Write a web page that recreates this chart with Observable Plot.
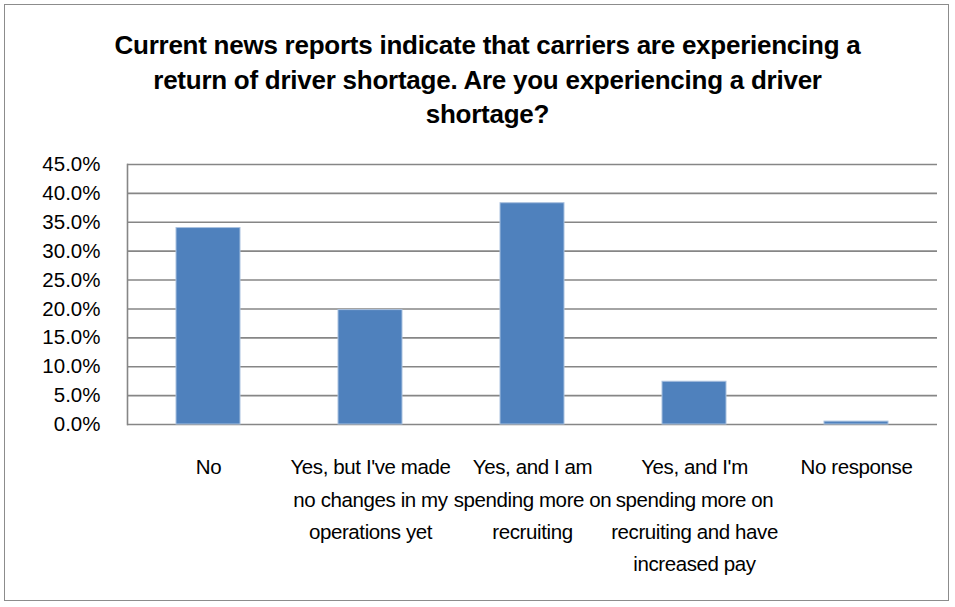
<!DOCTYPE html>
<html>
<head>
<meta charset="utf-8">
<script src="https://cdn.jsdelivr.net/npm/d3@7"></script>
<script src="https://cdn.jsdelivr.net/npm/@observablehq/plot@0.6"></script>
<style>
  html, body { margin: 0; padding: 0; background: #fff; }
  #wrap { position: relative; width: 955px; height: 607px; overflow: hidden; }
  #border { position: absolute; left: 4px; top: 4px; width: 945px; height: 597px; border: 1px solid #8c8c8c; box-sizing: border-box; }
  #title { position: absolute; left: 0; top: 28px; width: 975px; text-align: center;
    font-family: "Liberation Sans", Arial, sans-serif; font-weight: bold; font-size: 26px; line-height: 34.5px; color: #000; letter-spacing: -0.25px; }
  #chart { position: absolute; left: 0; top: 140px; }
  .xlab text { letter-spacing: -0.4px; }
</style>
</head>
<body>
<div id="wrap">
  <div id="border"></div>
  <div id="title">Current news reports indicate that carriers are experiencing a<br>return of driver shortage. Are you experiencing a driver<br>shortage?</div>
  <div id="chart"></div>
</div>
<script>
const categories = [
  "No",
  "Yes, but I've made no changes in my operations yet",
  "Yes, and I am spending more on recruiting",
  "Yes, and I'm spending more on recruiting and have increased pay",
  "No response"
];
const labelLines = [
  "No",
  "Yes, but I've made\nno changes in my\noperations yet",
  "Yes, and I am\nspending more on\nrecruiting",
  "Yes, and I'm\nspending more on\nrecruiting and have\nincreased pay",
  "No response"
];
const values = [34.0, 19.8, 38.3, 7.4, 0.5];
const yTicks = [0, 5, 10, 15, 20, 25, 30, 35, 40, 45];

const rows = categories.map((c, i) => ({cat: c, label: labelLines[i], v: values[i]}));

const chart = Plot.plot({
  width: 955,
  height: 467,
  marginTop: 24,
  marginBottom: 183,
  marginLeft: 127,
  marginRight: 18,
  style: {fontFamily: "'Liberation Sans', Arial, sans-serif", background: "transparent", color: "#000"},
  x: {domain: categories, axis: null, paddingInner: 0.605, paddingOuter: 0.3025},
  y: {domain: [0, 45], axis: null},
  marks: [
    Plot.ruleY(yTicks, {stroke: "#868686", strokeWidth: 1.6}),
    Plot.frame({anchor: "left", stroke: "#868686", strokeWidth: 1.6}),
    Plot.barY(rows, {x: "cat", y: "v", fill: "#4f81bd", stroke: "#a9c1df", strokeWidth: 1}),
    Plot.axisY({ticks: yTicks, tickFormat: d => d.toFixed(1) + "%", tickSize: 0, tickPadding: 27, fontSize: 20.5, label: null, anchor: "left"}),
    Plot.text(rows, {x: "cat", frameAnchor: "bottom", text: "label", lineAnchor: "top", dy: 27, fontSize: 20.5, lineHeight: 1.57, fill: "#000", className: "xlab"})
  ]
});
document.getElementById("chart").appendChild(chart);
</script>
</body>
</html>
